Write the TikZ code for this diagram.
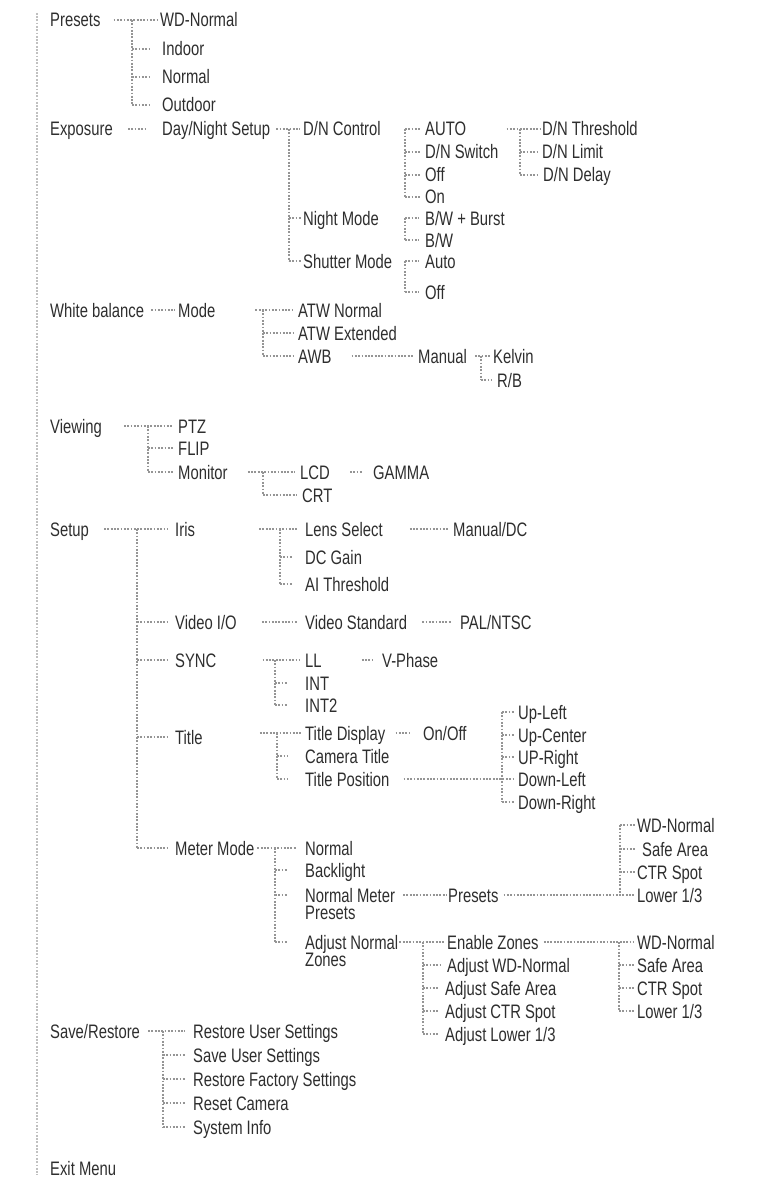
\documentclass[tikz,border=0pt]{standalone}
\usepackage{fontspec}
\setmainfont{Liberation Sans}[FakeStretch=0.76]
\usetikzlibrary{calc}
\definecolor{txt}{HTML}{2E2E2E}
\definecolor{dotc}{HTML}{959595}
\definecolor{spinec}{HTML}{C0C0C0}
\begin{document}
\begin{tikzpicture}[x=1pt,y=-1pt,
  lbl/.style={anchor=west,inner sep=0pt,text=txt,font=\fontsize{19.5}{17.5}\selectfont,text height=14pt,text depth=0pt},
  lbltwo/.style={anchor=north west,inner sep=0pt,text=txt,font=\fontsize{19.5}{17.5}\selectfont,align=left},
  dl/.style={draw=dotc,line width=1.8pt,dash pattern=on 1.8pt off 1.5pt},
  spine/.style={draw=spinec,line width=1.8pt,dash pattern=on 1.8pt off 1.5pt}]
\fill[white] (0,0) rectangle (760,1177);
\useasboundingbox (0,0) rectangle (760,1177);

% ---------- nodes ----------
\node[lbl] (presets) at (50,20) {Presets};
\node[lbl] (pwdn) at (160,20) {WD-Normal};
\node[lbl] (pindoor) at (162,49) {Indoor};
\node[lbl] (pnormal) at (162,77) {Normal};
\node[lbl] (poutdoor) at (162,105) {Outdoor};

\node[lbl] (exposure) at (50,129) {Exposure};
\node[lbl] (dnsetup) at (162,129) {Day/Night Setup};
\node[lbl] (dncontrol) at (303,129) {D/N Control};
\node[lbl] (nightmode) at (303,218) {Night Mode};
\node[lbl] (shutter) at (303,261) {Shutter Mode};
\node[lbl] (auto) at (425,129) {AUTO};
\node[lbl] (dnswitch) at (425,152) {D/N Switch};
\node[lbl] (off) at (425,175) {Off};
\node[lbl] (on) at (425,197) {On};
\node[lbl] (bwburst) at (425,218) {B/W + Burst};
\node[lbl] (bw) at (425,240) {B/W};
\node[lbl] (sauto) at (425,261) {Auto};
\node[lbl] (soff) at (425,292) {Off};
\node[lbl] (dnthr) at (542,129) {D/N Threshold};
\node[lbl] (dnlimit) at (542,152) {D/N Limit};
\node[lbl] (dndelay) at (543,175) {D/N Delay};

\node[lbl] (wb) at (50,310) {White balance};
\node[lbl] (mode) at (178,310) {Mode};
\node[lbl] (atwn) at (298,310) {ATW Normal};
\node[lbl] (atwe) at (298,333) {ATW Extended};
\node[lbl] (awb) at (298,356) {AWB};
\node[lbl] (manual) at (418,356) {Manual};
\node[lbl] (kelvin) at (493,356) {Kelvin};
\node[lbl] (rb) at (497,380) {R/B};

\node[lbl] (viewing) at (50,426) {Viewing};
\node[lbl] (ptz) at (178,426) {PTZ};
\node[lbl] (flip) at (178,448) {FLIP};
\node[lbl] (monitor) at (178,472) {Monitor};
\node[lbl] (lcd) at (300,472) {LCD};
\node[lbl] (crt) at (302,495) {CRT};
\node[lbl] (gamma) at (373,472) {GAMMA};

\node[lbl] (setup) at (50,529) {Setup};
\node[lbl] (iris) at (175,529) {Iris};
\node[lbl] (lens) at (305,529) {Lens Select};
\node[lbl] (dcgain) at (305,557) {DC Gain};
\node[lbl] (aithr) at (305,584) {AI Threshold};
\node[lbl] (mandc) at (453,529) {Manual/DC};
\node[lbl] (videoio) at (175,622) {Video I/O};
\node[lbl] (vstd) at (305,622) {Video Standard};
\node[lbl] (pal) at (460,622) {PAL/NTSC};
\node[lbl] (sync) at (175,660) {SYNC};
\node[lbl] (ll) at (305,660) {LL};
\node[lbl] (int) at (305,683) {INT};
\node[lbl] (intt) at (305,705) {INT2};
\node[lbl] (vphase) at (382,660) {V-Phase};
\node[lbl] (title) at (175,737) {Title};
\node[lbl] (tdisp) at (305,733) {Title Display};
\node[lbl] (ctitle) at (305,756) {Camera Title};
\node[lbl] (tpos) at (305,779) {Title Position};
\node[lbl] (onoff) at (423,733) {On/Off};
\node[lbl] (upleft) at (518,712) {Up-Left};
\node[lbl] (upcenter) at (518,735) {Up-Center};
\node[lbl] (upright) at (518,757) {UP-Right};
\node[lbl] (downleft) at (518,779) {Down-Left};
\node[lbl] (downright) at (518,802) {Down-Right};
\node[lbl] (meter) at (175,848) {Meter Mode};
\node[lbl] (mnormal) at (305,848) {Normal};
\node[lbl] (backlight) at (305,870) {Backlight};
\node[lbltwo] (nmeter) at (305,888) {Normal Meter\\Presets};
\node[lbltwo] (adjn) at (305,935) {Adjust Normal\\Zones};
\node[lbl] (mpresets) at (448,895) {Presets};
\node[lbl] (pwd) at (637,825) {WD-Normal};
\node[lbl] (psafe) at (642,849) {Safe Area};
\node[lbl] (pctr) at (637,872) {CTR Spot};
\node[lbl] (plow) at (637,895) {Lower 1/3};
\node[lbl] (enable) at (447,942) {Enable Zones};
\node[lbl] (awd) at (447,965) {Adjust WD-Normal};
\node[lbl] (asafe) at (445,988) {Adjust Safe Area};
\node[lbl] (actr) at (445,1011) {Adjust CTR Spot};
\node[lbl] (alow) at (445,1034) {Adjust Lower 1/3};
\node[lbl] (ewd) at (637,942) {WD-Normal};
\node[lbl] (esafe) at (637,965) {Safe Area};
\node[lbl] (ectr) at (637,988) {CTR Spot};
\node[lbl] (elow) at (637,1011) {Lower 1/3};
\node[lbl] (saverest) at (50,1031) {Save/Restore};
\node[lbl] (rus) at (193,1031) {Restore User Settings};
\node[lbl] (sus) at (193,1055) {Save User Settings};
\node[lbl] (rfs) at (193,1079) {Restore Factory Settings};
\node[lbl] (reset) at (193,1103) {Reset Camera};
\node[lbl] (sysinfo) at (193,1127) {System Info};
\node[lbl] (exit) at (50,1168) {Exit Menu};

% ---------- spine ----------
\draw[spine] ([xshift=-13pt]presets.north west) -- ([xshift=-13pt]exit.south west);

% ---------- Presets ----------
\coordinate (tP) at (132,0);
\draw[dl] ([xshift=13pt]presets.east) -- ([xshift=-2pt]pwdn.west);
\draw[dl] (tP |- pwdn.west) -- (tP |- poutdoor.west);
\foreach \n in {pindoor,pnormal,poutdoor} \draw[dl] (tP |- \n.west) -- ([xshift=-13pt]\n.west);

% ---------- Exposure ----------
\draw[dl] ([xshift=15pt]exposure.east) -- ([xshift=-17pt]dnsetup.west);
\coordinate (tD) at (289,0);
\draw[dl] ([xshift=6pt]dnsetup.east) -- ([xshift=-3pt]dncontrol.west);
\draw[dl] (tD |- dncontrol.west) -- (tD |- shutter.west);
\foreach \n in {nightmode,shutter} \draw[dl] (tD |- \n.west) -- ([xshift=-2pt]\n.west);
\coordinate (tA) at (405,0);
\draw[dl] (tA |- auto.west) -- (tA |- on.west);
\foreach \n in {auto,dnswitch,off,on} \draw[dl] (tA |- \n.west) -- ([xshift=-4pt]\n.west);
\draw[dl] (tA |- bwburst.west) -- (tA |- bw.west);
\foreach \n in {bwburst,bw} \draw[dl] (tA |- \n.west) -- ([xshift=-6pt]\n.west);
\draw[dl] (tA |- sauto.west) -- (tA |- soff.west);
\foreach \n in {sauto,soff} \draw[dl] (tA |- \n.west) -- ([xshift=-6pt]\n.west);
\coordinate (tT) at (520,0);
\draw[dl] ($(dnswitch.east |- auto.west)+(8,0)$) -- ([xshift=-2pt]dnthr.west);
\draw[dl] (tT |- dnthr.west) -- (tT |- dndelay.west);
\foreach \n in {dnlimit,dndelay} \draw[dl] (tT |- \n.west) -- ([xshift=-5pt]\n.west);

% ---------- White balance ----------
\draw[dl] ([xshift=7pt]wb.east) -- ([xshift=-3pt]mode.west);
\coordinate (tM) at (263,0);
\draw[dl] ([xshift=40pt]mode.east) -- ([xshift=-5pt]atwn.west);
\draw[dl] (tM |- atwn.west) -- (tM |- awb.west);
\foreach \n in {atwe,awb} \draw[dl] (tM |- \n.west) -- ([xshift=-5pt]\n.west);
\draw[dl] ([xshift=20pt]awb.east) -- ([xshift=-5pt]manual.west);
\coordinate (tK) at (481,0);
\draw[dl] ([xshift=8pt]manual.east) -- ([xshift=-3pt]kelvin.west);
\draw[dl] (tK |- kelvin.west) -- (tK |- rb.west);
\draw[dl] (tK |- rb.west) -- ([xshift=-6pt]rb.west);

% ---------- Viewing ----------
\coordinate (tV) at (148,0);
\draw[dl] ([xshift=22pt]viewing.east) -- ([xshift=-5pt]ptz.west);
\draw[dl] (tV |- ptz.west) -- (tV |- monitor.west);
\foreach \n in {flip,monitor} \draw[dl] (tV |- \n.west) -- ([xshift=-5pt]\n.west);
\coordinate (tL) at (263,0);
\draw[dl] ([xshift=20pt]monitor.east) -- ([xshift=-5pt]lcd.west);
\draw[dl] (tL |- lcd.west) -- (tL |- crt.west);
\draw[dl] (tL |- crt.west) -- ([xshift=-5pt]crt.west);
\draw[dl] ([xshift=20pt]lcd.east) -- ([xshift=-11pt]gamma.west);

% ---------- Setup ----------
\coordinate (tS) at (137,0);
\draw[dl] ([xshift=15pt]setup.east) -- ([xshift=-8pt]iris.west);
\draw[dl] (tS |- iris.west) -- (tS |- meter.west);
\foreach \n in {videoio,sync,title,meter} \draw[dl] (tS |- \n.west) -- ([xshift=-8pt]\n.west);
\coordinate (tI) at (280,0);
\draw[dl] ([xshift=64pt]iris.east) -- ([xshift=-8pt]lens.west);
\draw[dl] (tI |- lens.west) -- (tI |- aithr.west);
\foreach \n in {dcgain,aithr} \draw[dl] (tI |- \n.west) -- ([xshift=-12pt]\n.west);
\draw[dl] ([xshift=27pt]lens.east) -- ([xshift=-5pt]mandc.west);
\draw[dl] ([xshift=25pt]videoio.east) -- ([xshift=-8pt]vstd.west);
\draw[dl] ([xshift=15pt]vstd.east) -- ([xshift=-8pt]pal.west);
\coordinate (tY) at (275,0);
\draw[dl] ([xshift=46pt]sync.east) -- ([xshift=-5pt]ll.west);
\draw[dl] (tY |- ll.west) -- (tY |- intt.west);
\foreach \n in {int,intt} \draw[dl] (tY |- \n.west) -- ([xshift=-17pt]\n.west);
\draw[dl] ([xshift=40pt]ll.east) -- ([xshift=-9pt]vphase.west);
\coordinate (tU) at (277,0);
\draw[dl] ($(title.east |- tdisp.west)+(57,0)$) -- ([xshift=-3pt]tdisp.west);
\draw[dl] (tU |- tdisp.west) -- (tU |- tpos.west);
\foreach \n in {ctitle,tpos} \draw[dl] (tU |- \n.west) -- ([xshift=-17pt]\n.west);
\draw[dl] ([xshift=10pt]tdisp.east) -- ([xshift=-13pt]onoff.west);
\coordinate (tQ) at (502,0);
\draw[dl] ([xshift=14pt]tpos.east) -- ([xshift=-3pt]downleft.west);
\draw[dl] (tQ |- upleft.west) -- (tQ |- downright.west);
\foreach \n in {upleft,upcenter,upright,downright} \draw[dl] (tQ |- \n.west) -- ([xshift=-3pt]\n.west);

% ---------- Meter Mode ----------
\coordinate (nm1) at ([yshift=-7pt]nmeter.north west);
\coordinate (nme) at ([yshift=-7pt]nmeter.north east);
\coordinate (an1) at ([yshift=-7pt]adjn.north west);
\coordinate (ane) at ([yshift=-7pt]adjn.north east);
\coordinate (tR) at (275,0);
\draw[dl] ([xshift=3pt]meter.east) -- ([xshift=-8pt]mnormal.west);
\draw[dl] (tR |- mnormal.west) -- (tR |- an1);
\draw[dl] (tR |- backlight.west) -- ([xshift=-17pt]backlight.west);
\draw[dl] (tR |- nm1) -- ([xshift=-17pt]nm1);
\draw[dl] (tR |- an1) -- ([xshift=-17pt]an1);
\draw[dl] ([xshift=8pt]nme) -- ([xshift=-1pt]mpresets.west);
\coordinate (tW) at (620,0);
\draw[dl] ([xshift=5pt]mpresets.east) -- ([xshift=-2pt]plow.west);
\draw[dl] (tW |- pwd.west) -- (tW |- plow.west);
\foreach \n in {pwd,pctr} \draw[dl] (tW |- \n.west) -- ([xshift=-2pt]\n.west);
\draw[dl] (tW |- psafe.west) -- ([xshift=-7pt]psafe.west);
\coordinate (tZ) at (423,0);
\draw[dl] ([xshift=1pt]ane) -- ([xshift=-2pt]enable.west);
\draw[dl] (tZ |- enable.west) -- (tZ |- alow.west);
\foreach \n in {awd,asafe,actr,alow} \draw[dl] (tZ |- \n.west) -- ([xshift=-7pt]\n.west);
\coordinate (tE) at (619,0);
\draw[dl] ([xshift=5pt]enable.east) -- ([xshift=-4pt]ewd.west);
\draw[dl] (tE |- ewd.west) -- (tE |- elow.west);
\foreach \n in {esafe,ectr,elow} \draw[dl] (tE |- \n.west) -- ([xshift=-2pt]\n.west);

% ---------- Save/Restore ----------
\coordinate (tX) at (163,0);
\draw[dl] ([xshift=8pt]saverest.east) -- ([xshift=-8pt]rus.west);
\draw[dl] (tX |- rus.west) -- (tX |- sysinfo.west);
\foreach \n in {sus,rfs,reset,sysinfo} \draw[dl] (tX |- \n.west) -- ([xshift=-8pt]\n.west);
\end{tikzpicture}
\end{document}
